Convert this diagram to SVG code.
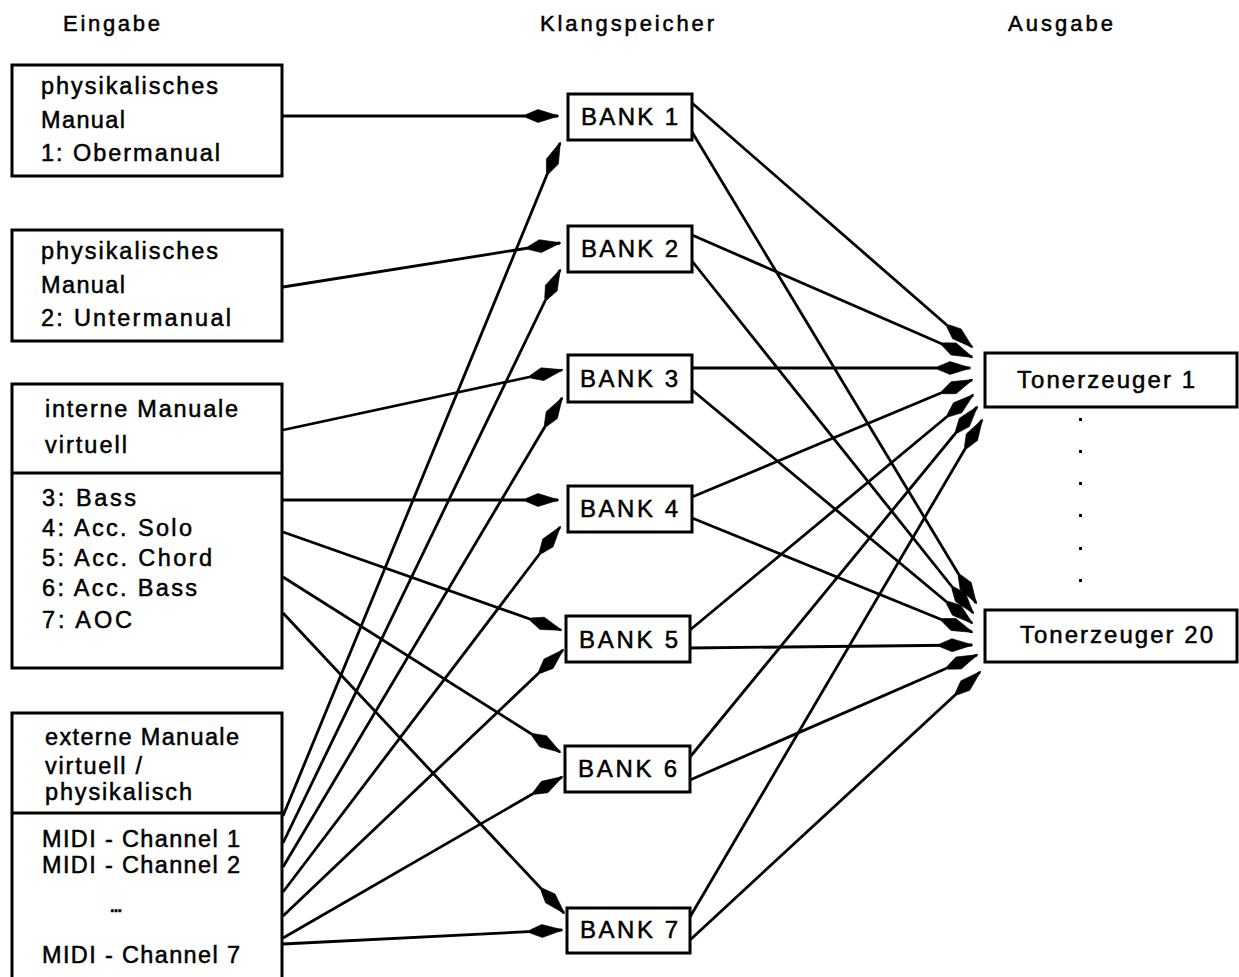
<svg xmlns="http://www.w3.org/2000/svg" width="1239" height="977" viewBox="0 0 1239 977" xml:space="preserve">
<style>
  text { font-family: "Liberation Sans", Arial, sans-serif; fill: #000; stroke: #000; stroke-width: 0.5; }
  .hd { font-size: 22px; }
  .bx { font-size: 23.5px; }
  .bk { font-size: 24px; }
  .tz { font-size: 24px; }
  .box { fill: #fff; stroke: #000; stroke-width: 3; }
  .div { stroke: #000; stroke-width: 3; }
  .con line { stroke: #000; stroke-width: 2.8; marker-end: url(#ah); }
  .dot { fill: #000; }
</style>
<defs>
  <marker id="ah" markerUnits="userSpaceOnUse" markerWidth="40" markerHeight="16" viewBox="-36 -8 40 16" refX="0" refY="0" orient="auto" overflow="visible">
    <path d="M1,0 L-20,-6.5 L-32,-1.5 L-32,1.5 L-20,6.5 Z" fill="#000" stroke="#000" stroke-width="0.6" stroke-linejoin="round"/>
  </marker>
</defs>
<rect width="1239" height="977" fill="#fff"/>

<g id="headers">
  <text class="hd" x="63" y="31" textLength="97" lengthAdjust="spacing">Eingabe</text>
  <text class="hd" x="540" y="31" textLength="174" lengthAdjust="spacing">Klangspeicher</text>
  <text class="hd" x="1008" y="31" textLength="105" lengthAdjust="spacing">Ausgabe</text>
</g>

<g id="connectors" class="con">
  <line x1="283" y1="116" x2="558" y2="116"/>
  <line x1="283" y1="287" x2="560" y2="243"/>
  <line x1="283" y1="430" x2="562" y2="370"/>
  <line x1="283" y1="500" x2="558" y2="500"/>
  <line x1="283" y1="532" x2="561" y2="630"/>
  <line x1="283" y1="577" x2="560" y2="752"/>
  <line x1="283" y1="613" x2="564" y2="913"/>
  <line x1="283" y1="816" x2="560" y2="143"/>
  <line x1="283" y1="843" x2="560" y2="270"/>
  <line x1="283" y1="867" x2="562" y2="398"/>
  <line x1="283" y1="892" x2="560" y2="527"/>
  <line x1="283" y1="916" x2="563" y2="650"/>
  <line x1="283" y1="938" x2="562" y2="777"/>
  <line x1="283" y1="944" x2="562" y2="930"/>
  <line x1="692" y1="103" x2="972" y2="347"/>
  <line x1="692" y1="132" x2="976" y2="603"/>
  <line x1="692" y1="235" x2="972" y2="357"/>
  <line x1="692" y1="261" x2="973" y2="613"/>
  <line x1="692" y1="368" x2="970" y2="368"/>
  <line x1="692" y1="390" x2="972" y2="623"/>
  <line x1="692" y1="497" x2="972" y2="380"/>
  <line x1="692" y1="518" x2="972" y2="632"/>
  <line x1="690" y1="630" x2="973" y2="395"/>
  <line x1="690" y1="648" x2="972" y2="645"/>
  <line x1="690" y1="757" x2="977" y2="407"/>
  <line x1="690" y1="780" x2="977" y2="655"/>
  <line x1="690" y1="917" x2="982" y2="420"/>
  <line x1="690" y1="940" x2="980" y2="672"/>
</g>

<g id="in1">
  <rect class="box" x="12" y="65" width="270" height="111"/>
  <text class="bx" x="41" y="94" textLength="177" lengthAdjust="spacing">physikalisches</text>
  <text class="bx" x="41" y="128" textLength="84" lengthAdjust="spacing">Manual</text>
  <text class="bx" x="41" y="161" textLength="179" lengthAdjust="spacing">1:  Obermanual</text>
</g>

<g id="in2">
  <rect class="box" x="12" y="230" width="270" height="111"/>
  <text class="bx" x="41" y="259" textLength="177" lengthAdjust="spacing">physikalisches</text>
  <text class="bx" x="41" y="293" textLength="84" lengthAdjust="spacing">Manual</text>
  <text class="bx" x="41" y="326" textLength="190" lengthAdjust="spacing">2:  Untermanual</text>
</g>

<g id="in3">
  <rect class="box" x="12" y="384" width="270" height="284"/>
  <line class="div" x1="12" y1="473" x2="282" y2="473"/>
  <text class="bx" x="45" y="417" textLength="193" lengthAdjust="spacing">interne Manuale</text>
  <text class="bx" x="45" y="453" textLength="82" lengthAdjust="spacing">virtuell</text>
  <text class="bx" x="42" y="506" textLength="94" lengthAdjust="spacing">3:  Bass</text>
  <text class="bx" x="42" y="536" textLength="150" lengthAdjust="spacing">4:  Acc. Solo</text>
  <text class="bx" x="42" y="566" textLength="170" lengthAdjust="spacing">5:  Acc. Chord</text>
  <text class="bx" x="42" y="596" textLength="155" lengthAdjust="spacing">6:  Acc. Bass</text>
  <text class="bx" x="42" y="628" textLength="90" lengthAdjust="spacing">7:  AOC</text>
</g>

<g id="in4">
  <rect class="box" x="12" y="713" width="270" height="280"/>
  <line class="div" x1="12" y1="813" x2="282" y2="813"/>
  <text class="bx" x="45" y="745" textLength="194" lengthAdjust="spacing">externe Manuale</text>
  <text class="bx" x="45" y="774" textLength="97" lengthAdjust="spacing">virtuell /</text>
  <text class="bx" x="45" y="800" textLength="147" lengthAdjust="spacing">physikalisch</text>
  <text class="bx" x="42" y="847" textLength="198" lengthAdjust="spacing">MIDI - Channel  1</text>
  <text class="bx" x="42" y="873" textLength="198" lengthAdjust="spacing">MIDI - Channel  2</text>
  <text class="bx" x="109" y="912" textLength="14" lengthAdjust="spacing">...</text>
  <text class="bx" x="42" y="963" textLength="198" lengthAdjust="spacing">MIDI - Channel  7</text>
</g>

<g id="bank1">
  <rect class="box" x="568" y="94" width="124" height="46"/>
  <text class="bk" x="581" y="125" textLength="97" lengthAdjust="spacing">BANK  1</text>
</g>
<g id="bank2">
  <rect class="box" x="568" y="226" width="124" height="46"/>
  <text class="bk" x="581" y="257" textLength="97" lengthAdjust="spacing">BANK  2</text>
</g>
<g id="bank3">
  <rect class="box" x="568" y="355" width="124" height="47"/>
  <text class="bk" x="580" y="387" textLength="98" lengthAdjust="spacing">BANK  3</text>
</g>
<g id="bank4">
  <rect class="box" x="568" y="486" width="124" height="46"/>
  <text class="bk" x="580" y="517" textLength="98" lengthAdjust="spacing">BANK  4</text>
</g>
<g id="bank5">
  <rect class="box" x="566" y="616" width="124" height="46"/>
  <text class="bk" x="579" y="648" textLength="99" lengthAdjust="spacing">BANK  5</text>
</g>
<g id="bank6">
  <rect class="box" x="565" y="746" width="125" height="46"/>
  <text class="bk" x="578" y="777" textLength="99" lengthAdjust="spacing">BANK  6</text>
</g>
<g id="bank7">
  <rect class="box" x="567" y="908" width="123" height="45"/>
  <text class="bk" x="580" y="938" textLength="98" lengthAdjust="spacing">BANK  7</text>
</g>

<g id="tz1">
  <rect class="box" x="985" y="353" width="252" height="54"/>
  <text class="tz" x="1017" y="388" textLength="178" lengthAdjust="spacing">Tonerzeuger  1</text>
</g>
<g id="tz20">
  <rect class="box" x="985" y="610" width="252" height="52"/>
  <text class="tz" x="1020" y="643" textLength="193" lengthAdjust="spacing">Tonerzeuger  20</text>
</g>

<g id="dots">
  <rect class="dot" x="1079" y="418" width="3" height="3"/>
  <rect class="dot" x="1079" y="450" width="3" height="3"/>
  <rect class="dot" x="1079" y="482" width="3" height="3"/>
  <rect class="dot" x="1079" y="514" width="3" height="3"/>
  <rect class="dot" x="1079" y="547" width="3" height="3"/>
  <rect class="dot" x="1079" y="579" width="3" height="3"/>
</g>
</svg>
